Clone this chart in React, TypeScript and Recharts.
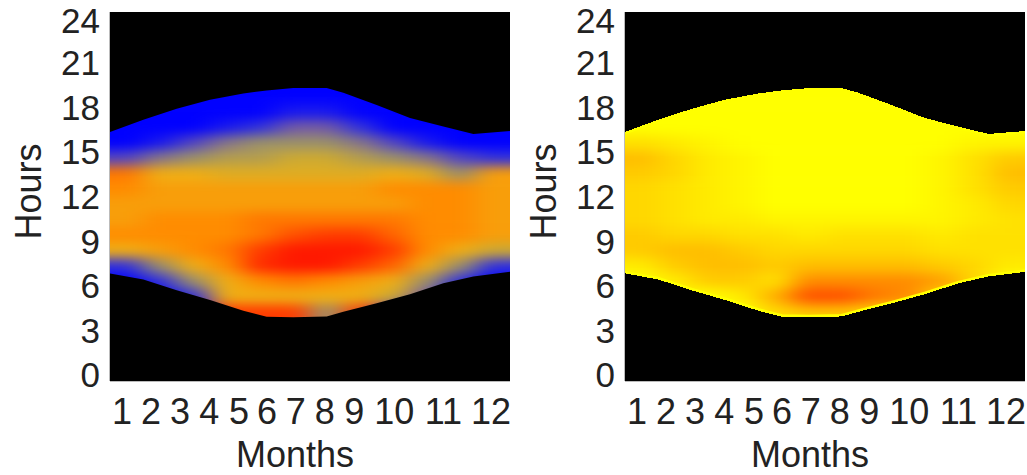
import React from 'react';
import { Area, ComposedChart, Line, Scatter, XAxis, YAxis } from 'recharts';

const monthLabels = ['1', '2', '3', '4', '5', '6', '7', '8', '9', '10', '11', '12'];
const monthTickPlaces = [0.36, 1.23, 2.1, 2.98, 3.87, 4.71, 5.57, 6.44, 7.33, 8.53, 10, 11.43];
const hourLabels = ['0', '3', '6', '9', '12', '15', '18', '21', '24'];
const hourTickPlaces = [0.39, 3.28, 6.18, 9.1, 12, 14.9, 17.8, 20.7, 23.45];

// daylight edges
const edgeMonths = [0, 1, 2, 3, 4, 4.7, 5.5, 6.5, 7, 8, 9, 10, 10.9, 12];
const sunset = [16.2, 17, 17.7, 18.3, 18.7, 18.9, 19.05, 19.05, 18.75, 17.95, 17.1, 16.55, 16.07, 16.26];
const sunrise = [7, 6.6, 5.9, 5.27, 4.57, 4.18, 4.14, 4.2, 4.5, 5.05, 5.65, 6.35, 6.8, 7.1];

// levels per month column, one row per hour
const gridHours = [19, 18, 17, 16, 15, 14, 13, 12, 11, 10, 9, 8, 7, 6, 5, 4, 3];
const leftLevels = [
  [0, 0, 0, 0, 0, 0, 0, 0, 0, 0, 0, 0],
  [0, 0, 0, 0, 0, 0, 0, 0, 0, 0, 0, 0],
  [0, 0, 0, 0, 0, 0.5, 0.5, 0, 0, 0, 0, 0],
  [0, 0, 0, 0.5, 1, 2, 2, 1, 0, 0, 0, 0],
  [0, 0.5, 1.5, 2.5, 3, 3, 3, 2.5, 1.5, 0.5, 0, 0],
  [1.5, 2.5, 3, 3.5, 3.5, 4, 4, 3.5, 3, 2.5, 1.5, 1],
  [6.5, 5, 5, 4.5, 4.5, 4.5, 4.5, 4.5, 5, 4.5, 3, 5.5],
  [6, 5.5, 5.5, 5.5, 5.5, 5.5, 5.5, 5.5, 6, 6, 6, 5.5],
  [5.5, 5.5, 5.5, 5.5, 5.5, 5.5, 5.5, 5.5, 5.5, 6, 6, 5.5],
  [5.5, 6, 6, 6, 6.5, 6.5, 6.5, 6.5, 6.5, 6, 6, 5.5],
  [6, 6, 6, 6, 6.5, 7.5, 8, 8, 7, 6, 6, 5.5],
  [5, 5.5, 6, 6.5, 8, 9, 9, 9, 8, 6, 5, 4],
  [1, 3, 5, 6, 8.5, 9, 9, 8, 7, 5, 3, 1],
  [0, 1, 3, 5, 6, 6.5, 6, 5.5, 5, 3, 1, 0],
  [0, 0, 1, 5, 5, 5, 5, 5, 4, 2, 0, 0],
  [0, 0, 0, 8, 8, 8, 3, 8, 1, 0, 0, 0],
  [0, 0, 0, 8, 8, 8, 3, 8, 1, 0, 0, 0],
];
const rightLevels = [
  [0, 0, 0, 0, 0, 0, 0, 0, 0, 0, 0, 0],
  [0, 0, 0, 0, 0, 0, 0, 0, 0, 0, 0, 0],
  [0, 0, 0, 0, 0, 0, 0, 0, 0, 0, 0, 0],
  [0, 0, 0, 0, 0, 0, 0, 0, 0, 0, 0, 0],
  [1.5, 1, 0.5, 0, 0, 0, 0, 0, 0, 0, 0.5, 0.5],
  [3, 2, 1, 0.5, 0, 0, 0, 0, 0, 0.5, 1.5, 2.5],
  [2.5, 2, 1, 0.5, 0, 0, 0, 0, 0, 0.5, 1.5, 3],
  [2, 1.5, 1, 0.5, 0, 0, 0, 0, 0, 0.5, 1.5, 2.5],
  [2, 1.5, 1, 0.5, 0, 0, 0, 0, 0, 0.5, 1, 2],
  [2, 1.5, 1, 1, 0.5, 0.5, 0.5, 0.5, 0.5, 0.5, 1, 1.5],
  [2.5, 2, 2, 1.5, 1.5, 1, 1.5, 1.5, 1.5, 1, 1.5, 1.5],
  [2.5, 3, 3, 2.5, 2, 2, 2, 2, 2, 1.5, 1.5, 1.5],
  [1, 2.5, 3, 3, 2.5, 3, 3, 3, 3, 2.5, 2, 1],
  [0, 1, 2.5, 2.5, 1.5, 4.5, 4.5, 4.5, 4.5, 4, 2, 0],
  [0, 0, 0, 1, 3.5, 6, 6, 5, 4.5, 2, 0, 0],
  [0, 0, 0, 0, 2, 3, 3, 2, 1, 0, 0, 0],
  [0, 0, 0, 0, 0, 0, 0, 0, 0, 0, 0, 0],
];

const leftColors = [
  [0, 0, 255], [50, 50, 220], [115, 90, 165], [155, 145, 105], [205, 170, 50],
  [240, 175, 20], [255, 140, 0], [255, 100, 0], [255, 60, 0], [255, 25, 0],
];
const rightColors = [
  [255, 255, 0], [255, 235, 0], [255, 215, 0], [255, 190, 0], [255, 160, 0], [255, 120, 0], [255, 80, 0],
];

const FONT = '"Liberation Sans", Arial, sans-serif';
const PLOT_W = 400;
const PLOT_H = 369;
const CELL_W = PLOT_W / 12;
const CELL_H = PLOT_H / 24;

const edgeRows = edgeMonths.map((month, i) => ({ month, sunset: sunset[i], sunrise: sunrise[i] }));

const buildCells = (levels: number[][]) =>
  gridHours.flatMap((hour, r) =>
    levels[r].map((level, c) => ({ month: c + 0.5, hour: hour + 0.5, level, col: c }))
  );

const colorAt = (ramp: number[][], level: number) => {
  const lo = Math.floor(level);
  const hi = Math.min(lo + 1, ramp.length - 1);
  const t = level - lo;
  const mix = ramp[lo].map((v, i) => Math.round(v + (ramp[hi][i] - v) * t));
  return `rgb(${mix.join(',')})`;
};

const Panel = ({ id, levels, ramp, rim }: { id: string; levels: number[][]; ramp: number[][]; rim?: string }) => {
  const HeatCell = (props: any) => {
    const { cx, cy, payload } = props;
    // outer columns run past the plot so the blur does not fade at the sides
    const left = payload.col === 0 ? CELL_W : 0;
    const right = payload.col === 11 ? CELL_W : 0;
    return (
      <rect
        x={cx - CELL_W / 2 - left}
        y={cy - CELL_H / 2}
        width={CELL_W + left + right + 0.5}
        height={CELL_H + 0.5}
        fill={colorAt(ramp, payload.level)}
      />
    );
  };

  return (
    <ComposedChart width={rim ? 512 : 515} height={475} data={edgeRows} margin={{ top: 12, right: rim ? 2 : 5, bottom: 0, left: 0 }}>
      <defs>
        <filter id={id} x="-20%" y="-20%" width="140%" height="140%" colorInterpolationFilters="sRGB">
          <feGaussianBlur stdDeviation="13 6" />
        </filter>
      </defs>
      <style>{`.${id}-heat { filter: url(#${id}); }`}</style>
      <XAxis
        dataKey="month"
        type="number"
        domain={[0, 12]}
        ticks={monthTickPlaces}
        interval={0}
        allowDataOverflow
        height={94}
        tickSize={0}
        tickMargin={17}
        tickFormatter={(_v: number, i: number) => monthLabels[i]}
        tick={{ fontSize: 36, fill: '#222', fontFamily: FONT }}
        axisLine={{ stroke: '#777' }}
        label={{ value: 'Months', position: 'insideBottom', offset: 8, dx: -15, fontSize: 36, fill: '#222', fontFamily: FONT }}
      />
      <YAxis
        dataKey="hour"
        type="number"
        domain={[0, 24]}
        ticks={hourTickPlaces}
        interval={0}
        allowDataOverflow
        width={110}
        tickSize={0}
        tickMargin={10}
        tickFormatter={(_v: number, i: number) => hourLabels[i]}
        tick={{ fontSize: 35, fill: '#222', fontFamily: FONT }}
        axisLine={{ stroke: '#777' }}
        label={{ value: 'Hours', angle: -90, position: 'insideLeft', offset: 28, dy: 43, fontSize: 36, fill: '#222', fontFamily: FONT }}
      />
      <Scatter data={buildCells(levels)} shape={HeatCell} className={`${id}-heat`} isAnimationActive={false} />
      {rim && <Line dataKey="sunset" stroke={rim} strokeWidth={5} dot={false} activeDot={false} zIndex={650} isAnimationActive={false} />}
      {rim && <Line dataKey="sunrise" stroke={rim} strokeWidth={5} dot={false} activeDot={false} zIndex={650} isAnimationActive={false} />}
      <Area
        dataKey={(row: any) => [row.sunset, 24]}
        stroke="none"
        fill="#000"
        fillOpacity={1}
        shapeRendering={rim ? 'crispEdges' : undefined}
        dot={false}
        activeDot={false}
        zIndex={700}
        isAnimationActive={false}
      />
      <Area
        dataKey={(row: any) => [0, row.sunrise]}
        stroke="none"
        fill="#000"
        fillOpacity={1}
        shapeRendering={rim ? 'crispEdges' : undefined}
        dot={false}
        activeDot={false}
        zIndex={700}
        isAnimationActive={false}
      />
    </ComposedChart>
  );
};

export default function App() {
  return (
    <div style={{ position: 'absolute', left: 0, top: 0, width: 1027, height: 475, background: '#fff', display: 'flex' }}>
      <Panel id="lightLeft" levels={leftLevels} ramp={leftColors} />
      <Panel id="lightRight" levels={rightLevels} ramp={rightColors} rim="#ffff00" />
    </div>
  );
}
